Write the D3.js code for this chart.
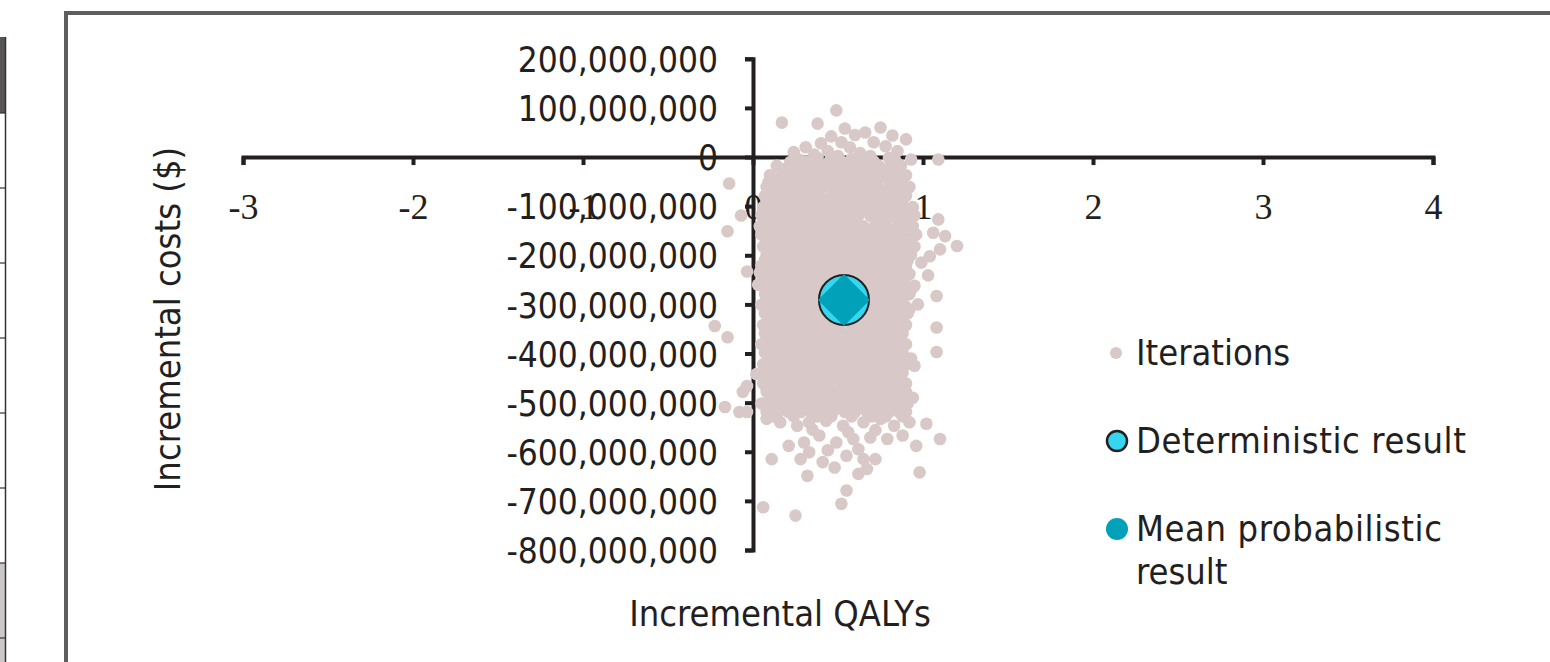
<!DOCTYPE html>
<html>
<head>
<meta charset="utf-8">
<script src="https://cdn.jsdelivr.net/npm/d3@7"></script>
<style>
  body { margin: 0; background: #fff; }
  svg { display: block; }
  .sans { font-family: "DejaVu Sans Condensed", "DejaVu Sans", sans-serif; font-stretch: condensed; fill: #231f20; }
  .serif { font-family: "Liberation Serif", "DejaVu Serif", serif; fill: #231f20; }
</style>
</head>
<body>
<svg id="chart" width="1550" height="662"></svg>
<script>
// ---- data (costs in millions of $) ----
const xTicks = [-3, -2, -1, 0, 1, 2, 3, 4];
const yTicksM = [200, 100, 0, -100, -200, -300, -400, -500, -600, -700, -800];

const deterministicResult = [0.535, -291];
const meanProbabilistic = [0.535, -291];

// dense body of the cloud, one cost level per row with the QALY values read along it
const iterationRows = [
  [-9, [0.31, 0.45, 0.52, 0.65, 0.71, 0.84]],
  [-18, [0.14, 0.21, 0.28, 0.35, 0.42, 0.48, 0.55, 0.61, 0.68, 0.74, 0.81, 0.87]],
  [-28, [0.18, 0.25, 0.33, 0.39, 0.46, 0.52, 0.58, 0.65, 0.72, 0.78, 0.85]],
  [-37, [0.1, 0.17, 0.24, 0.3, 0.37, 0.44, 0.5, 0.57, 0.63, 0.7, 0.77, 0.83, 0.9]],
  [-49, [0.13, 0.2, 0.27, 0.34, 0.4, 0.47, 0.53, 0.6, 0.66, 0.73, 0.8, 0.87]],
  [-61, [0.08, 0.15, 0.21, 0.28, 0.34, 0.41, 0.47, 0.54, 0.6, 0.67, 0.73, 0.8, 0.86, 0.92]],
  [-70, [0.11, 0.18, 0.24, 0.31, 0.37, 0.5, 0.57, 0.63, 0.7, 0.76, 0.83, 0.89]],
  [-79, [0.07, 0.13, 0.2, 0.26, 0.33, 0.39, 0.46, 0.52, 0.59, 0.65, 0.71, 0.78, 0.84, 0.9]],
  [-90, [0.09, 0.16, 0.23, 0.29, 0.36, 0.42, 0.49, 0.55, 0.62, 0.68, 0.74, 0.81, 0.87]],
  [-102, [0.06, 0.12, 0.19, 0.25, 0.32, 0.38, 0.45, 0.51, 0.57, 0.64, 0.7, 0.76, 0.83, 0.89, 0.94]],
  [-110, [0.09, 0.15, 0.22, 0.28, 0.35, 0.41, 0.48, 0.54, 0.6, 0.67, 0.73, 0.79, 0.86, 0.91]],
  [-119, [0.05, 0.11, 0.18, 0.24, 0.3, 0.37, 0.43, 0.5, 0.56, 0.62, 0.69, 0.75, 0.81, 0.88, 0.95]],
  [-130, [0.08, 0.14, 0.21, 0.27, 0.34, 0.4, 0.47, 0.53, 0.59, 0.72, 0.78, 0.85, 0.91]],
  [-141, [0.07, 0.14, 0.2, 0.27, 0.33, 0.4, 0.46, 0.52, 0.59, 0.65, 0.72, 0.78, 0.85, 0.92]],
  [-150, [0.09, 0.16, 0.23, 0.3, 0.36, 0.43, 0.49, 0.55, 0.62, 0.68, 0.75, 0.81, 0.88]],
  [-158, [0.05, 0.12, 0.18, 0.25, 0.31, 0.38, 0.44, 0.5, 0.57, 0.63, 0.7, 0.76, 0.83, 0.89, 0.96]],
  [-170, [0.08, 0.15, 0.21, 0.28, 0.35, 0.41, 0.48, 0.54, 0.61, 0.67, 0.74, 0.8, 0.87, 0.93]],
  [-182, [0.06, 0.13, 0.19, 0.26, 0.32, 0.39, 0.45, 0.52, 0.58, 0.64, 0.71, 0.77, 0.84, 0.9, 0.95]],
  [-190, [0.1, 0.16, 0.23, 0.29, 0.36, 0.42, 0.49, 0.55, 0.61, 0.68, 0.74, 0.81, 0.87]],
  [-199, [0.08, 0.15, 0.21, 0.28, 0.34, 0.41, 0.47, 0.54, 0.6, 0.67, 0.73, 0.8, 0.86, 0.93]],
  [-210, [0.07, 0.13, 0.2, 0.26, 0.33, 0.39, 0.46, 0.52, 0.59, 0.65, 0.72, 0.79, 0.85, 0.91]],
  [-221, [0.05, 0.11, 0.18, 0.24, 0.31, 0.37, 0.44, 0.5, 0.56, 0.63, 0.69, 0.76, 0.83, 0.9]],
  [-230, [0.09, 0.15, 0.22, 0.28, 0.35, 0.41, 0.48, 0.54, 0.61, 0.67, 0.74, 0.8, 0.87]],
  [-238, [0.08, 0.14, 0.21, 0.27, 0.34, 0.4, 0.47, 0.53, 0.6, 0.66, 0.73, 0.79, 0.86, 0.92]],
  [-250, [0.06, 0.11, 0.17, 0.24, 0.3, 0.37, 0.43, 0.5, 0.57, 0.63, 0.7, 0.76, 0.83, 0.89]],
  [-262, [0.06, 0.12, 0.19, 0.25, 0.32, 0.38, 0.45, 0.51, 0.58, 0.64, 0.7, 0.77, 0.83, 0.89, 0.95]],
  [-270, [0.09, 0.16, 0.22, 0.29, 0.35, 0.42, 0.48, 0.55, 0.61, 0.68, 0.74, 0.81, 0.87, 0.93]],
  [-279, [0.07, 0.14, 0.2, 0.27, 0.33, 0.4, 0.46, 0.53, 0.59, 0.65, 0.72, 0.78, 0.85, 0.92]],
  [-290, [0.08, 0.15, 0.21, 0.28, 0.34, 0.41, 0.47, 0.54, 0.6, 0.67, 0.73, 0.8, 0.86]],
  [-301, [0.05, 0.11, 0.18, 0.24, 0.31, 0.37, 0.44, 0.5, 0.57, 0.63, 0.69, 0.76, 0.82, 0.89]],
  [-310, [0.08, 0.15, 0.21, 0.28, 0.34, 0.41, 0.47, 0.54, 0.6, 0.66, 0.73, 0.79, 0.86, 0.92]],
  [-318, [0.07, 0.14, 0.2, 0.27, 0.33, 0.4, 0.46, 0.53, 0.59, 0.66, 0.72, 0.79, 0.85, 0.91]],
  [-330, [0.09, 0.16, 0.22, 0.29, 0.36, 0.42, 0.49, 0.55, 0.62, 0.68, 0.75, 0.81, 0.88]],
  [-342, [0.06, 0.12, 0.19, 0.25, 0.32, 0.38, 0.45, 0.51, 0.58, 0.64, 0.7, 0.77, 0.83, 0.9]],
  [-350, [0.09, 0.16, 0.22, 0.29, 0.35, 0.42, 0.48, 0.61, 0.67, 0.74, 0.81, 0.87]],
  [-359, [0.07, 0.14, 0.2, 0.27, 0.33, 0.4, 0.46, 0.53, 0.59, 0.65, 0.72, 0.78, 0.85, 0.88]],
  [-370, [0.08, 0.15, 0.21, 0.28, 0.35, 0.41, 0.48, 0.54, 0.61, 0.67, 0.74, 0.8, 0.86]],
  [-381, [0.05, 0.11, 0.18, 0.24, 0.31, 0.37, 0.44, 0.5, 0.57, 0.63, 0.69, 0.76, 0.82, 0.9]],
  [-390, [0.08, 0.15, 0.21, 0.28, 0.34, 0.41, 0.53, 0.6, 0.66, 0.73, 0.79, 0.86]],
  [-398, [0.07, 0.14, 0.2, 0.27, 0.33, 0.4, 0.46, 0.53, 0.59, 0.66, 0.72, 0.79, 0.85, 0.88]],
  [-410, [0.09, 0.16, 0.22, 0.29, 0.35, 0.42, 0.48, 0.55, 0.61, 0.68, 0.74, 0.81, 0.87, 0.93]],
  [-422, [0.06, 0.12, 0.19, 0.25, 0.32, 0.38, 0.45, 0.51, 0.58, 0.64, 0.7, 0.77, 0.83, 0.9]],
  [-430, [0.09, 0.15, 0.22, 0.28, 0.35, 0.41, 0.48, 0.54, 0.61, 0.67, 0.73, 0.8, 0.86]],
  [-439, [0.05, 0.11, 0.17, 0.24, 0.3, 0.37, 0.43, 0.5, 0.56, 0.63, 0.69, 0.76, 0.82, 0.88]],
  [-450, [0.09, 0.16, 0.22, 0.29, 0.35, 0.42, 0.49, 0.55, 0.62, 0.68, 0.74, 0.81, 0.87]],
  [-461, [0.06, 0.13, 0.19, 0.26, 0.32, 0.39, 0.45, 0.52, 0.58, 0.65, 0.71, 0.77, 0.84, 0.9]],
  [-470, [0.1, 0.17, 0.23, 0.3, 0.36, 0.43, 0.56, 0.62, 0.69, 0.75, 0.82, 0.88]],
  [-478, [0.08, 0.14, 0.21, 0.27, 0.34, 0.4, 0.47, 0.53, 0.6, 0.66, 0.72, 0.79, 0.85, 0.9]],
  [-490, [0.1, 0.16, 0.23, 0.29, 0.36, 0.42, 0.49, 0.55, 0.62, 0.68, 0.75, 0.81, 0.88, 0.94]],
  [-502, [0.05, 0.12, 0.18, 0.25, 0.31, 0.38, 0.44, 0.51, 0.57, 0.64, 0.7, 0.76, 0.83, 0.91]],
  [-510, [0.1, 0.16, 0.23, 0.3, 0.36, 0.43, 0.49, 0.56, 0.62, 0.69, 0.76, 0.82, 0.87]],
  [-519, [0.08, 0.15, 0.21, 0.28, 0.34, 0.41, 0.47, 0.54, 0.6, 0.67, 0.73, 0.8, 0.86, 0.9]],
  [-528, [0.12, 0.24, 0.38, 0.46, 0.58, 0.7, 0.78, 0.88]]
];

// scattered iterations around the body: [QALYs, cost M]
const iterationTop = [
  [0.49, 95], [0.17, 70], [0.38, 68], [0.54, 58], [0.75, 60], [0.46, 42], [0.6, 45],
  [0.66, 50], [0.82, 44], [0.9, 36], [0.24, 10], [0.31, 20], [0.4, 28], [0.52, 30],
  [0.57, 20], [0.71, 30], [0.78, 22], [0.85, 12], [0.36, 5], [0.44, 12], [0.5, 2],
  [0.63, 8], [0.69, 2], [0.8, -2], [0.93, -5], [0.27, -5], [1.09, -5], [0.22, -10],
  [0.58, -4], [0.38, -2]
];
const iterationSides = [
  [-0.14, -54], [0.09, -52], [-0.07, -119], [-0.15, -151], [0.04, -141], [-0.035, -233],
  [0.04, -235], [0.03, -260], [-0.225, -344], [-0.15, -367], [0.02, -442], [-0.035, -466],
  [-0.06, -478], [-0.165, -509], [-0.08, -519], [-0.035, -519],
  [1.09, -127], [0.94, -141], [1.06, -154], [1.13, -161], [1.2, -181], [1.1, -188],
  [1.04, -202], [0.99, -215], [1.03, -241], [1.08, -283], [0.97, -300], [1.08, -347],
  [1.08, -397], [0.95, -425]
];
const iterationBottom = [
  [0.08, -533], [0.16, -540], [0.26, -547], [0.33, -540], [0.43, -537], [0.53, -547],
  [0.65, -540], [0.75, -533], [0.83, -547], [0.92, -540], [1.02, -543],
  [0.21, -588], [0.3, -581], [0.39, -567], [0.49, -581], [0.59, -574], [0.69, -571],
  [0.79, -574], [0.88, -567], [0.96, -588], [1.1, -574], [0.35, -555], [0.56, -560],
  [0.72, -556], [0.44, -597], [0.62, -595],
  [0.11, -615], [0.28, -615], [0.33, -601], [0.41, -621], [0.48, -632], [0.55, -608],
  [0.65, -615], [0.72, -615], [0.98, -642], [0.32, -649], [0.62, -645], [0.67, -635],
  [0.55, -679], [0.52, -706], [0.06, -713], [0.25, -730]
];

const iterations = [];
iterationRows.forEach(([c, qs]) => qs.forEach(q => iterations.push([q, c])));
iterationTop.concat(iterationSides, iterationBottom).forEach(d => iterations.push(d));

// ---- drawing ----
const svg = d3.select("#chart");
const ink = "#231f20";

// page context: frame around the figure and edge of the neighbouring table
svg.append("rect").attr("x", 0).attr("y", 563).attr("width", 5).attr("height", 99).attr("fill", "#cbc7c7");
svg.append("rect").attr("x", 0).attr("y", 37).attr("width", 5).attr("height", 76).attr("fill", "#595555");
svg.append("line").attr("x1", 5.5).attr("x2", 5.5).attr("y1", 37).attr("y2", 662)
  .attr("stroke", "#333").attr("stroke-width", 1.5);
[113, 188, 263, 338, 413, 488, 563, 638].forEach(yy => {
  svg.append("line").attr("x1", 0).attr("x2", 6).attr("y1", yy).attr("y2", yy)
    .attr("stroke", "#333").attr("stroke-width", 1.2);
});
svg.append("path").attr("d", "M66,664V13H1552").attr("fill", "none")
  .attr("stroke", "#5e5e5e").attr("stroke-width", 4);

const x = d3.scaleLinear().domain([-3, 4]).range([243, 1433]);
const y = d3.scaleLinear().domain([-800e6, 200e6]).range([550, 58.8]);

const fmtCost = d => (d < 0 ? "-" : "") + d3.format(",")(Math.abs(d));

// x axis through cost = 0
const gx = svg.append("g").attr("transform", `translate(0,${y(0)})`)
  .call(d3.axisBottom(x).tickValues(xTicks).tickSize(8).tickFormat(d => String(d)));
gx.select(".domain").attr("stroke", ink).attr("stroke-width", 4);
gx.selectAll(".tick line").attr("stroke", ink).attr("stroke-width", 4);
gx.selectAll(".tick text").attr("class", "serif").attr("font-size", 36)
  .attr("y", 62).attr("dy", 0).attr("fill", ink);

// y axis through QALY = 0
const gy = svg.append("g").attr("transform", `translate(${x(0)},0)`)
  .call(d3.axisLeft(y).tickValues(yTicksM.map(v => v * 1e6)).tickSize(8).tickFormat(fmtCost));
gy.select(".domain").attr("stroke", ink).attr("stroke-width", 4);
gy.selectAll(".tick line").attr("stroke", ink).attr("stroke-width", 4);
gy.selectAll(".tick text").attr("class", "sans").attr("font-size", 35)
  .attr("x", -35).attr("dy", "0.36em").attr("fill", ink);
svg.selectAll(".tick text").attr("font-family", null);

// iterations
svg.append("g").selectAll("circle")
  .data(iterations)
  .join("circle")
  .attr("cx", d => x(d[0]))
  .attr("cy", d => y(d[1] * 1e6))
  .attr("r", 6.3)
  .attr("fill", "#d9c8c8");

// deterministic result and mean probabilistic result
svg.append("circle")
  .attr("cx", x(deterministicResult[0]))
  .attr("cy", y(deterministicResult[1] * 1e6))
  .attr("r", 25)
  .attr("fill", "#35d6ef")
  .attr("stroke", ink)
  .attr("stroke-width", 2);
svg.append("path")
  .attr("d", d3.symbol(d3.symbolSquare, 1352)())
  .attr("transform", `translate(${x(meanProbabilistic[0])},${y(meanProbabilistic[1] * 1e6)}) rotate(45)`)
  .attr("fill", "#00a1b9");

// axis titles
svg.append("text").attr("class", "sans").attr("font-size", 36)
  .attr("text-anchor", "middle")
  .attr("transform", "translate(180,319) rotate(-90)")
  .text("Incremental costs ($)");
svg.append("text").attr("class", "sans").attr("font-size", 36)
  .attr("text-anchor", "middle")
  .attr("x", 780).attr("y", 626)
  .text("Incremental QALYs");

// legend
const legend = svg.append("g");
legend.append("circle").attr("cx", 1116).attr("cy", 353).attr("r", 6).attr("fill", "#d9c8c8");
legend.append("text").attr("class", "sans").attr("font-size", 36)
  .attr("x", 1136).attr("y", 365).text("Iterations");
legend.append("circle").attr("cx", 1117).attr("cy", 441).attr("r", 10)
  .attr("fill", "#35d6ef").attr("stroke", ink).attr("stroke-width", 2.5);
legend.append("text").attr("class", "sans").attr("font-size", 36)
  .attr("x", 1136).attr("y", 453).attr("letter-spacing", 0.6).text("Deterministic result");
legend.append("circle").attr("cx", 1117).attr("cy", 529).attr("r", 11).attr("fill", "#00a1b9");
legend.append("text").attr("class", "sans").attr("font-size", 36)
  .attr("x", 1136).attr("y", 541).attr("letter-spacing", 0.6).text("Mean probabilistic");
legend.append("text").attr("class", "sans").attr("font-size", 36)
  .attr("x", 1136).attr("y", 584).text("result");
</script>
</body>
</html>
